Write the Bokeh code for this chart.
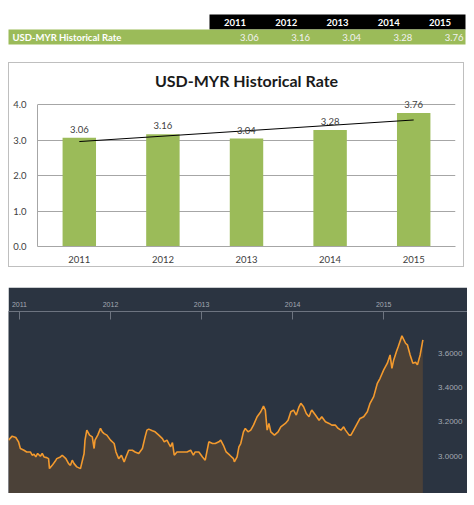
import numpy as np
from bokeh.plotting import figure
from bokeh.models import ColumnDataSource, Range1d, LabelSet, FixedTicker, NumeralTickFormatter
from bokeh.embed import file_html
from bokeh.resources import INLINE
from bokeh.core.properties import value

# ---------------- data ----------------
years = ["2011", "2012", "2013", "2014", "2015"]
rates = [3.06, 3.16, 3.04, 3.28, 3.76]
row_label = "USD-MYR Historical Rate"
chart_title = "USD-MYR Historical Rate"
bar_yticks = [0, 1, 2, 3, 4]

hist_time = [
    2010.88, 2010.92, 2010.96, 2010.99,
    2011.01, 2011.05, 2011.08, 2011.12, 2011.14, 2011.16, 2011.18, 2011.20, 2011.23, 2011.25,
    2011.27, 2011.30, 2011.32, 2011.33, 2011.36, 2011.40, 2011.41, 2011.45, 2011.47, 2011.51,
    2011.54, 2011.56, 2011.58, 2011.60, 2011.63, 2011.67, 2011.71, 2011.72, 2011.74, 2011.77,
    2011.80, 2011.82, 2011.83, 2011.86, 2011.89, 2011.91, 2011.93, 2011.96,
    2012.00, 2012.04, 2012.06, 2012.09, 2012.12, 2012.15, 2012.17, 2012.20, 2012.24, 2012.27,
    2012.31, 2012.35, 2012.38, 2012.40, 2012.42, 2012.46, 2012.49, 2012.53, 2012.57, 2012.59,
    2012.62, 2012.64, 2012.66, 2012.68, 2012.70, 2012.73, 2012.77, 2012.80, 2012.84, 2012.88,
    2012.91, 2012.93, 2012.97,
    2013.01, 2013.04, 2013.08, 2013.12, 2013.15, 2013.19, 2013.21, 2013.24, 2013.27, 2013.31,
    2013.35, 2013.36, 2013.39, 2013.41, 2013.43, 2013.46, 2013.48, 2013.51, 2013.54, 2013.57,
    2013.61, 2013.65, 2013.68, 2013.70, 2013.72, 2013.74, 2013.76, 2013.80, 2013.84, 2013.87,
    2013.92, 2013.95, 2013.98,
    2014.01, 2014.04, 2014.07, 2014.09, 2014.12, 2014.15, 2014.18, 2014.20, 2014.21, 2014.25,
    2014.29, 2014.32, 2014.36, 2014.40, 2014.43, 2014.47, 2014.50, 2014.53, 2014.56, 2014.58,
    2014.62, 2014.64, 2014.67, 2014.71, 2014.74, 2014.78, 2014.82, 2014.85, 2014.89, 2014.93,
    2014.96,
    2015.00, 2015.04, 2015.07, 2015.09, 2015.11, 2015.14, 2015.16, 2015.20, 2015.24, 2015.26,
    2015.29, 2015.32, 2015.35, 2015.37, 2015.40, 2015.43,
]
hist_rate = [
    3.131, 3.154, 3.146, 3.121,
    3.082, 3.072, 3.062, 3.062, 3.043, 3.049, 3.033, 3.053, 3.037, 3.053,
    3.033, 3.029, 3.023, 2.965, 2.984, 3.014, 3.023, 3.033, 3.043, 3.023,
    2.994, 2.984, 3.014, 2.994, 2.975, 2.965, 3.053, 3.131, 3.189, 3.160,
    3.150, 3.082, 3.131, 3.160, 3.199, 3.179, 3.169, 3.160,
    3.131, 3.111, 3.062, 3.023, 3.043, 3.004, 3.033, 3.072, 3.072, 3.062,
    3.053, 3.082, 3.150, 3.189, 3.195, 3.185, 3.179, 3.160, 3.140, 3.121,
    3.131, 3.111, 3.092, 3.117, 3.043, 3.062, 3.062, 3.062, 3.062, 3.072,
    3.043, 3.062, 3.062,
    3.033, 3.014, 3.121, 3.111, 3.111, 3.121, 3.131, 3.101, 3.062, 3.043,
    3.023, 3.004, 3.033, 3.092, 3.111, 3.179, 3.199, 3.179, 3.189, 3.218,
    3.267, 3.296, 3.329, 3.306, 3.189, 3.228, 3.179, 3.160, 3.179, 3.208,
    3.228, 3.247, 3.296,
    3.306, 3.277, 3.325, 3.345, 3.325, 3.286, 3.267, 3.296, 3.306, 3.277,
    3.247, 3.267, 3.238, 3.228, 3.218, 3.218, 3.199, 3.189, 3.208, 3.189,
    3.160, 3.160, 3.189, 3.228, 3.257, 3.267, 3.296, 3.345, 3.384, 3.462,
    3.491,
    3.540, 3.579, 3.627, 3.549, 3.598, 3.647, 3.676, 3.738, 3.695, 3.686,
    3.627, 3.579, 3.584, 3.569, 3.627, 3.715,
]
hist_xticks = [2011, 2012, 2013, 2014, 2015]
hist_yticks = [3.0, 3.2, 3.4, 3.6]
hist_ylabels = ["3.0000", "3.2000", "3.4000", "3.6000"]

# ---------------- styles ----------------
FONT = "Lato"
GREEN = "#9bbb59"
PAGE_W = 474
n = len(years)

# ---------------- table (canvas = page coordinates) ----------------
t = figure(width=PAGE_W, height=62, x_range=Range1d(0, PAGE_W), y_range=Range1d(62, 0),
           toolbar_location=None, output_backend="svg", x_axis_type=None, y_axis_type=None,
           min_border=0)
t.grid.visible = False
t.outline_line_color = None
tab_left, tab_right, row_left = 209, 465, 8
cw = (tab_right - tab_left) / n
col_l = [tab_left + i * cw for i in range(n)]
col_c = [c + cw / 2 for c in col_l]
col_r = [c + cw - 2 for c in col_l]
t.quad(left=tab_left, right=tab_right, top=14, bottom=29, fill_color="black", line_color=None)
t.quad(left=row_left, right=tab_right, top=29, bottom=44, fill_color=GREEN, line_color=None)
t.text(x=[row_left + 4], y=[36.5], text=[row_label], text_font=value(FONT), text_font_style="bold",
       text_font_size="9.5px", text_color="white", text_baseline="middle", text_align="left")
t.text(x=col_c, y=[21.5] * n, text=years, text_font=value(FONT), text_font_style="bold",
       text_font_size="9.5px", text_color="white", text_baseline="middle", text_align="center")
t.text(x=col_r, y=[36.5] * n, text=["%.2f" % r for r in rates], text_font=value(FONT),
       text_font_size="9.5px", text_color="#f2f2f2", text_baseline="middle", text_align="right")

# ---------------- bar chart ----------------
# frame: 152 px tall at 35.5 px per unit, so the top of the range sits a little above 4.0
b = figure(x_range=years, y_range=Range1d(0, 152 / 35.5), width=456, height=205,
           toolbar_location=None, output_backend="svg", title=chart_title,
           min_border_left=28, min_border_right=10, min_border_top=31, min_border_bottom=22,
           styles={"border": "1px solid #bfbfbf", "margin-left": "8px"})
b.title.text_font = FONT
b.title.text_font_size = "16px"
b.title.text_font_style = "bold"
b.title.align = "center"
b.title.offset = -9
b.title.standoff = 10
b.title.text_color = "#1a1a1a"
b.outline_line_color = None
src = ColumnDataSource(dict(x=years, top=rates, lbl=["%.2f" % r for r in rates]))
b.vbar(x="x", top="top", width=0.4, source=src, fill_color=GREEN, line_color=None)
coef = np.polyfit(np.arange(n), rates, 1)
trend = np.polyval(coef, [0, n - 1])
b.line(x=[years[0], years[-1]], y=trend, line_color="black", line_width=1)
b.add_layout(LabelSet(x="x", y="top", text="lbl", source=src, y_offset=5,
                      text_align="center", text_baseline="bottom", text_font=value(FONT),
                      text_font_size="9.5px", text_color="#404040"))
b.yaxis.ticker = FixedTicker(ticks=bar_yticks)
b.yaxis.formatter = NumeralTickFormatter(format="0.0")
b.yaxis.bounds = (bar_yticks[0], bar_yticks[-1])
b.ygrid.ticker = FixedTicker(ticks=bar_yticks)
b.ygrid.grid_line_color = "#a6a6a6"
b.xgrid.grid_line_color = None
for ax in (b.xaxis, b.yaxis):
    ax.axis_line_color = "#a6a6a6"
    ax.major_tick_line_color = None
    ax.minor_tick_line_color = None
    ax.major_label_text_font = FONT
    ax.major_label_text_font_size = "9.5px"
    ax.major_label_text_color = "#404040"
b.yaxis.major_label_standoff = 5
b.xaxis.major_label_standoff = 3

# ---------------- dark history chart ----------------
BG = "#2b3441"
d = figure(width=459, height=206, x_range=Range1d(hist_time[0], 2015.92),
           y_range=Range1d(2.82, 3.88), toolbar_location=None, output_backend="svg",
           x_axis_location="above", y_axis_type=None,
           min_border_left=0, min_border_right=0, min_border_top=24, min_border_bottom=0,
           background_fill_color=BG, border_fill_color=BG, outline_line_color=None,
           styles={"margin-left": "8px", "margin-top": "20px"})
d.xgrid.grid_line_color = None
d.ygrid.ticker = FixedTicker(ticks=hist_yticks)
d.ygrid.grid_line_color = "#5f6772"
d.ygrid.grid_line_width = 1.2
d.ygrid.level = "glyph"
d.varea(x=hist_time, y1=[d.y_range.start] * len(hist_time), y2=hist_rate,
        fill_color="#4b4138", level="underlay")
d.line(x=hist_time, y=hist_rate, line_color="#f39a2e", line_width=1.6)
d.xaxis.ticker = FixedTicker(ticks=hist_xticks)
d.xaxis.axis_line_color = "#6d7480"
d.xaxis.major_tick_line_color = "#6d7480"
d.xaxis.major_tick_in = 8
d.xaxis.major_tick_out = 0
d.xaxis.minor_tick_line_color = None
d.xaxis.major_label_text_font = "Liberation Sans"
d.xaxis.major_label_text_font_size = "7px"
d.xaxis.major_label_text_color = "#a3a9b2"
d.xaxis.major_label_standoff = 5
ysrc = ColumnDataSource(dict(x=[d.x_range.end] * len(hist_yticks), y=hist_yticks, t=hist_ylabels))
d.add_layout(LabelSet(x="x", y="y", text="t", source=ysrc, x_offset=-5, y_offset=4,
                      text_align="right", text_baseline="bottom", text_font=value("Liberation Sans"),
                      text_font_size="8px", text_color="#a3a9b2"))

open("out.html", "w").write(file_html([t, b, d], INLINE))
